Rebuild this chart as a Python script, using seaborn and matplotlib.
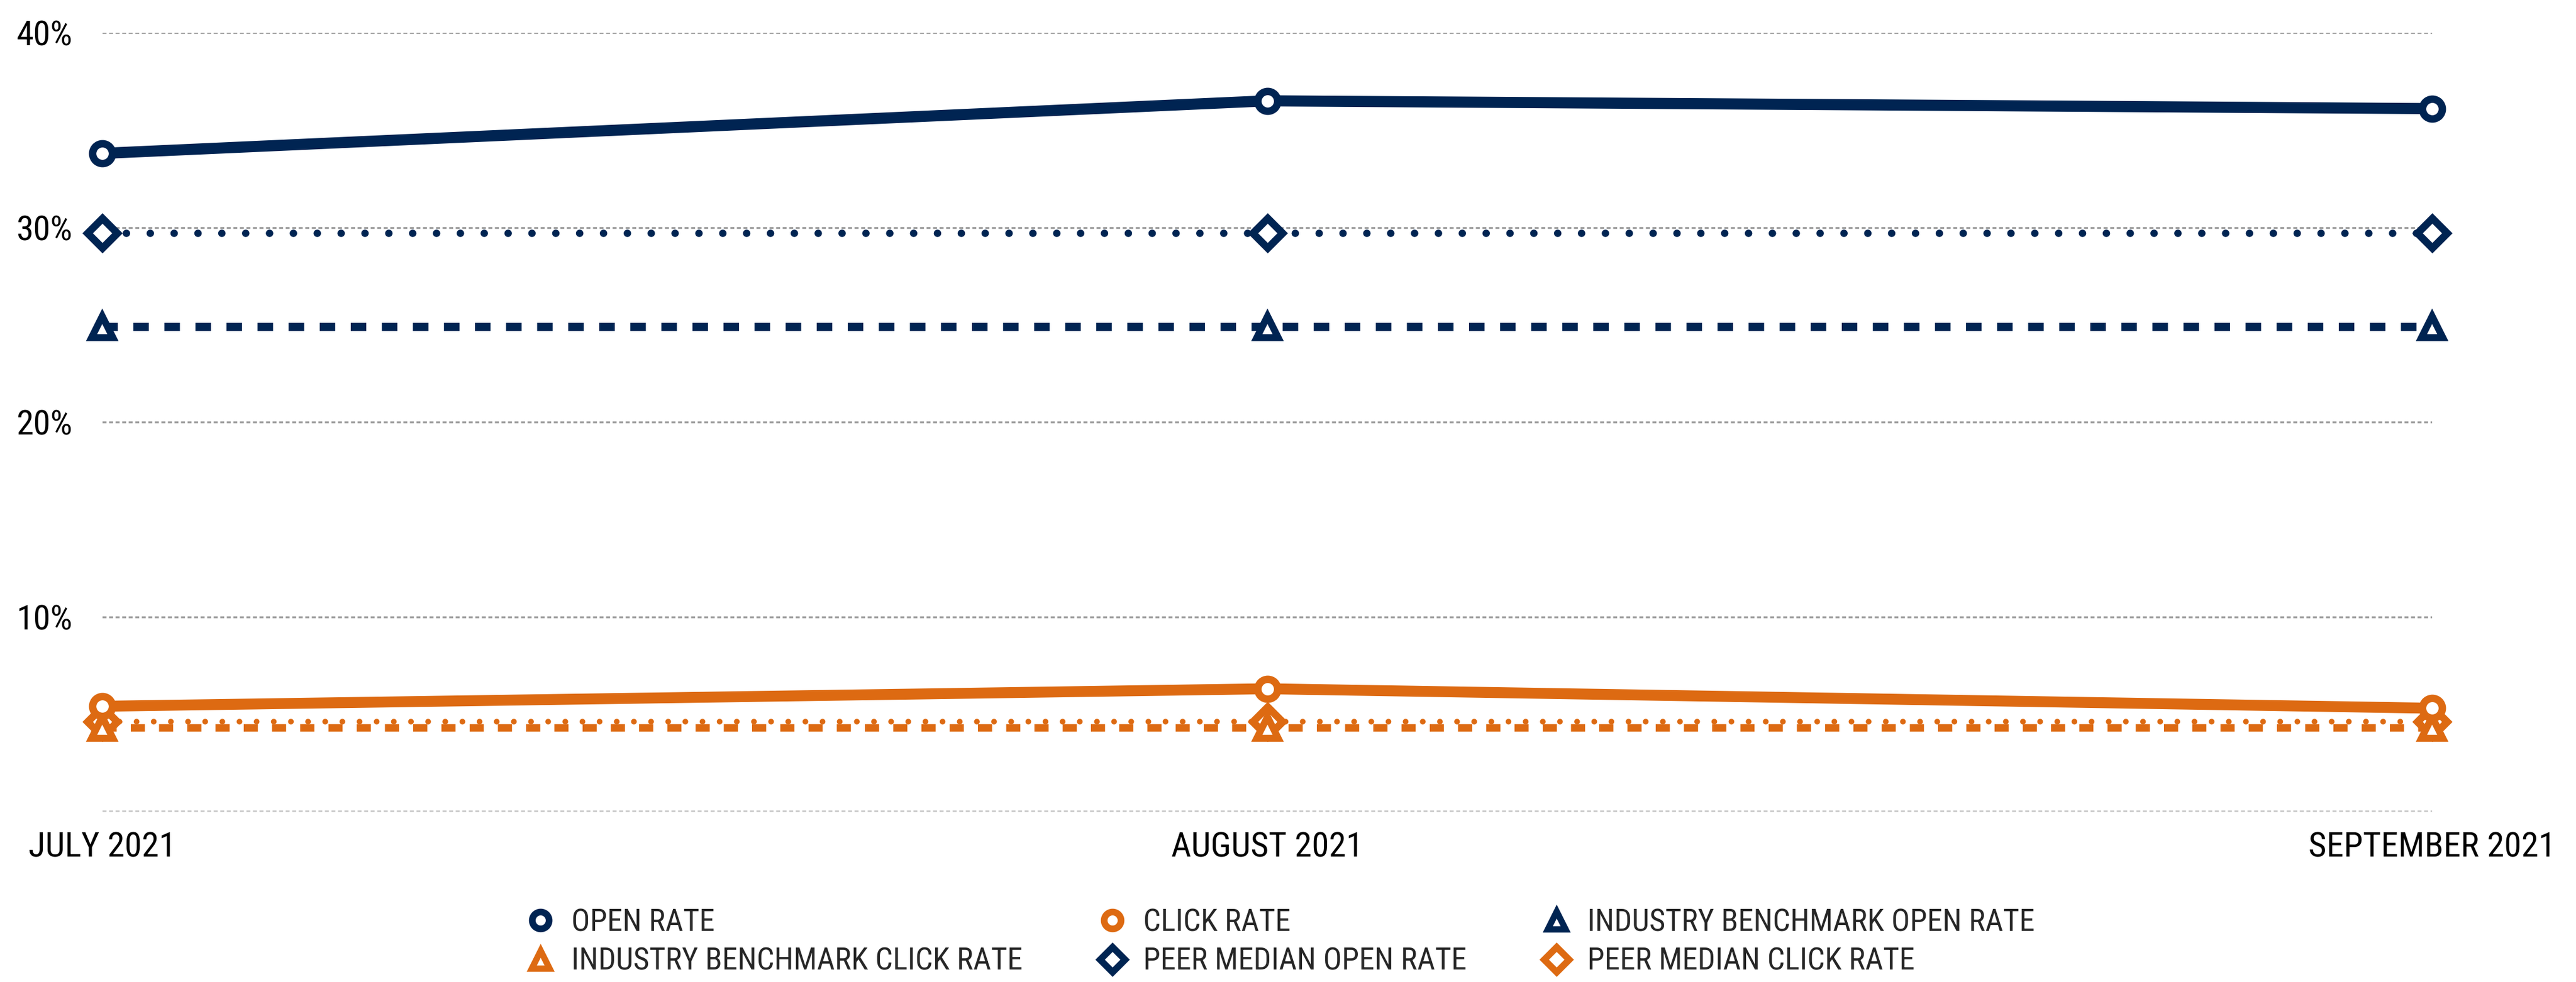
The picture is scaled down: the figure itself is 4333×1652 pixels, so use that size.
#!/usr/bin/env python3
# Email engagement rates, Jul-Sep 2021: own rates vs industry benchmark and peer median.

import pandas as pd
import seaborn as sns
import matplotlib.pyplot as plt
from matplotlib import font_manager
from matplotlib.lines import Line2D

MONTHS = ["JULY 2021", "AUGUST 2021", "SEPTEMBER 2021"]

OPEN_RATE            = [33.8, 36.5, 36.1]
CLICK_RATE           = [5.4, 6.3, 5.3]
INDUSTRY_OPEN_RATE   = [24.9, 24.9, 24.9]
INDUSTRY_CLICK_RATE  = [4.3, 4.3, 4.3]
PEER_OPEN_RATE       = [29.7, 29.7, 29.7]
PEER_CLICK_RATE      = [4.6, 4.6, 4.6]

Y_TICKS = [0, 10, 20, 30, 40]
Y_LABELS = ["", "10%", "20%", "30%", "40%"]

NAVY   = "#002452"
ORANGE = "#DD6A12"


def pick_font():
    names = {f.name for f in font_manager.fontManager.ttflist}
    for cand in ["Roboto Condensed", "Liberation Sans Narrow", "Open Sans Condensed",
                 "Noto Sans Condensed", "Liberation Sans"]:
        if cand in names:
            return cand
    return "DejaVu Sans"


def main():
    df = pd.DataFrame({
        "month": MONTHS,
        "open": OPEN_RATE,
        "click": CLICK_RATE,
        "ind_open": INDUSTRY_OPEN_RATE,
        "ind_click": INDUSTRY_CLICK_RATE,
        "peer_open": PEER_OPEN_RATE,
        "peer_click": PEER_CLICK_RATE,
    })
    df["x"] = range(len(df))

    sns.set_theme(style="white")
    font = pick_font()
    plt.rcParams["font.family"] = [font, "DejaVu Sans"]

    fig = plt.figure(figsize=(4333 / 300, 1652 / 300), dpi=300)
    ax = fig.add_axes([172 / 4333, 1 - 1365 / 1652, (4091 - 172) / 4333, (1365 - 55) / 1652])

    dots_navy = (0, (0.01, 3.2))
    dots_orange = (0, (0.01, 3.0))
    dash = (0, (1.9, 1.9))

    # (column, label, color, linestyle, lw, marker, ms, mew, zorder, capstyle)
    series = [
        ("peer_click", "PEER MEDIAN CLICK RATE", ORANGE, dots_orange, 2.3, "D", 8.5, 3.0, 3, "round"),
        ("ind_click", "INDUSTRY BENCHMARK CLICK RATE", ORANGE, dash, 3.0, "^", 8.6, 2.8, 4, "butt"),
        ("click", "CLICK RATE", ORANGE, "-", 4.4, "o", 8, 3.0, 5, "butt"),
        ("peer_open", "PEER MEDIAN OPEN RATE", NAVY, dots_navy, 3.0, "D", 8.5, 3.0, 3, "round"),
        ("ind_open", "INDUSTRY BENCHMARK OPEN RATE", NAVY, dash, 3.3, "^", 8.6, 2.8, 4, "butt"),
        ("open", "OPEN RATE", NAVY, "-", 4.5, "o", 8, 3.0, 5, "butt"),
    ]
    handles = {}
    for col, label, color, ls, lw, marker, ms, mew, z, cap in series:
        sns.lineplot(data=df, x="x", y=col, ax=ax, color=color, linestyle=ls, linewidth=lw,
                     marker=marker, markersize=ms, markerfacecolor="white",
                     markeredgecolor=color, markeredgewidth=mew, zorder=z,
                     dash_capstyle=cap, solid_capstyle="butt", clip_on=False, legend=False)
        handles[label] = Line2D([], [], linestyle="none", marker=marker, markersize=ms * 0.85,
                                markerfacecolor="white", markeredgecolor=color,
                                markeredgewidth=mew * 0.9, label=label)

    ax.set_xlim(0, len(MONTHS) - 1)
    ax.set_ylim(0, 40)
    ax.set_xticks(df["x"], MONTHS)
    ax.set_yticks(Y_TICKS, Y_LABELS)
    ax.set_xlabel("")
    ax.set_ylabel("")
    ax.grid(axis="y", color="#a0a0a0", linestyle=(0, (2.0, 1.3)), linewidth=0.8, zorder=0)
    ax.set_axisbelow(True)
    for side in ("top", "right", "bottom", "left"):
        ax.spines[side].set_visible(False)
    ax.tick_params(axis="both", length=0, labelsize=14, colors="black")
    ax.tick_params(axis="y", pad=12)
    ax.tick_params(axis="x", pad=8)

    order = ["OPEN RATE", "CLICK RATE", "INDUSTRY BENCHMARK OPEN RATE",
             "INDUSTRY BENCHMARK CLICK RATE", "PEER MEDIAN OPEN RATE", "PEER MEDIAN CLICK RATE"]
    # legend fills columns first, so reorder for row-major reading
    ncol = 3
    col_major = [lab for i in range(ncol) for lab in order[i::ncol]]
    fig.legend([handles[l] for l in col_major], col_major, ncol=ncol, frameon=False,
               loc="center", bbox_to_anchor=(2150 / 4333, 1 - 1585 / 1652),
               fontsize=12.5, handletextpad=0.4, columnspacing=2.3,
               labelspacing=0.3, handlelength=1.2)

    fig.savefig("out.png", dpi=300)


if __name__ == "__main__":
    main()
